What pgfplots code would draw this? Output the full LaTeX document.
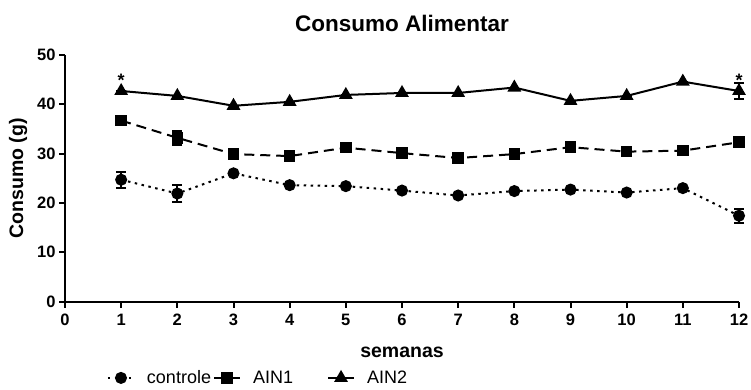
\documentclass[border=0pt]{standalone}
\usepackage{pgfplots}
\pgfplotsset{compat=1.18}
\usepackage{fontspec}
\setmainfont{Liberation Sans}
\begin{document}
\begin{tikzpicture}
\begin{axis}[
 scale only axis, width=674pt, height=246.5pt,
 xmin=0, xmax=12, ymin=0, ymax=50,
 axis lines=left, axis line style={line width=2pt, -},
 xtick={0,...,12}, ytick={0,10,...,50},
 tick align=outside, major tick length=6pt, tick style={line width=2pt, black},
 /pgf/number format/assume math mode=true,
 ticklabel style={font=\fontsize{16.5}{18}\selectfont\bfseries},
 xticklabel style={yshift=-3pt},
 xlabel={semanas}, ylabel={Consumo (g)},
 label style={font=\fontsize{19.5}{22}\selectfont\bfseries},
 xlabel style={yshift=-14pt},
 ylabel style={yshift=3pt},
 title={Consumo Alimentar},
 title style={font=\fontsize{22.5}{25}\selectfont\bfseries, yshift=14pt},
 clip=false,
 legend columns=-1,
 legend style={at={(0.062,-0.31)}, anchor=west, draw=none, fill=none, inner sep=0pt,
   font=\fontsize{18}{20}\selectfont,
   /tikz/every odd column/.append style={column sep=10pt},
   /tikz/every even column/.append style={column sep=0pt}},
 legend image code/.code={\draw[mark repeat=2,mark phase=2] plot coordinates {(0pt,0pt) (13pt,0pt) (26pt,0pt)};},
 error bars/error bar style={line width=2pt, solid},
 error bars/error mark options={rotate=90, mark size=5pt, line width=2pt, solid},
]
\addplot[black, line width=2pt, dash pattern=on 2.5pt off 4.5pt, mark=*, mark size=5pt, mark options={solid},
  error bars/.cd, y dir=both, y explicit]
 table[x=x, y=y, y error=e] {
x y e
1 24.7 1.6
2 21.9 1.7
3 26.0 0
4 23.6 0
5 23.4 0
6 22.5 0
7 21.5 0
8 22.4 0
9 22.7 0
10 22.1 0
11 23.0 0
12 17.4 1.4
};
\addlegendentry{controle}
\addplot[black, line width=2pt, dash pattern=on 10pt off 6pt, mark=square*, mark size=4.8pt, mark options={solid},
  error bars/.cd, y dir=both, y explicit]
 table[x=x, y=y, y error=e] {
x y e
1 36.7 0
2 33.2 1.4
3 29.9 0
4 29.5 0
5 31.2 0
6 30.1 0
7 29.1 0
8 29.9 0
9 31.3 0
10 30.4 0
11 30.6 0
12 32.3 0
};
\addlegendentry{AIN1\rule{32pt}{0pt}}
\addplot[black, line width=2pt, mark=triangle*, mark size=6pt, mark options={solid},
  error bars/.cd, y dir=both, y explicit]
 table[x=x, y=y, y error=e] {
x y e
1 42.7 0
2 41.7 0
3 39.7 0
4 40.5 0
5 41.9 0
6 42.3 0
7 42.3 0
8 43.4 0
9 40.7 0
10 41.7 0
11 44.6 0
12 42.7 1.6
};
\addlegendentry{AIN2}
\node[font=\fontsize{18}{20}\selectfont\bfseries] at (axis cs:1,44.8) {*};
\node[font=\fontsize{18}{20}\selectfont\bfseries] at (axis cs:12,44.8) {*};
\end{axis}
\pgfresetboundingbox
\useasboundingbox (-65pt,-87.5pt) rectangle (686pt,301.5pt);
\end{tikzpicture}
\end{document}
